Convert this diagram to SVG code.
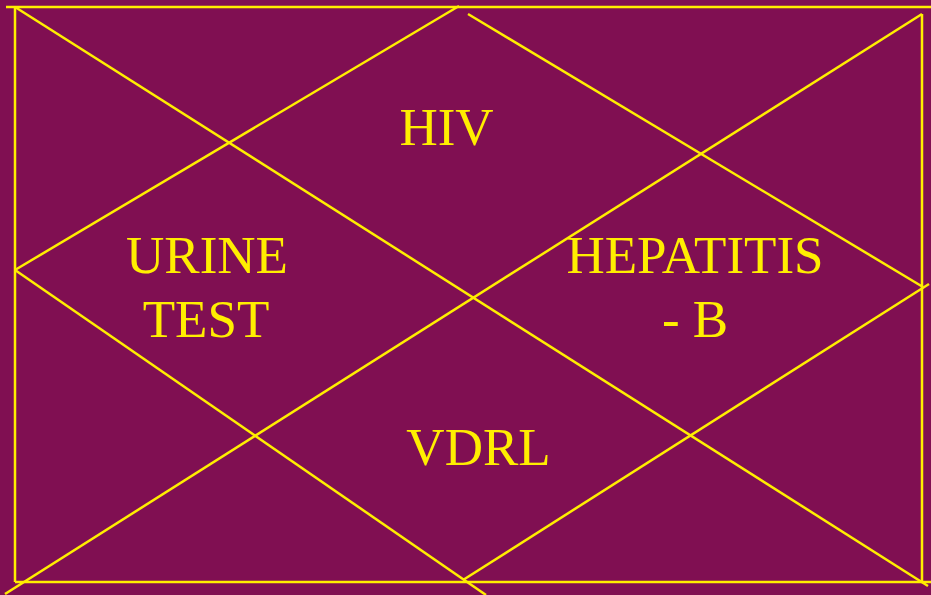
<svg xmlns="http://www.w3.org/2000/svg" width="931" height="595" viewBox="0 0 931 595">
<style>
.ln{stroke:#FFEE00;stroke-width:2.5;fill:none;stroke-linecap:butt}
.lb{font-family:"Liberation Serif","Times New Roman",serif;font-size:53px;fill:#FFEE00;text-anchor:middle}
</style>
<rect x="0" y="0" width="931" height="595" fill="#800F52"/>
<g id="connectors">
<line class="ln" x1="6" y1="7" x2="931" y2="7"/>
<line class="ln" x1="15" y1="7" x2="15" y2="582"/>
<line class="ln" x1="15" y1="582" x2="931" y2="582"/>
<line class="ln" x1="922" y1="14" x2="922" y2="583"/>
<line class="ln" x1="15" y1="7" x2="928" y2="586"/>
<line class="ln" x1="5" y1="594" x2="922" y2="14"/>
<line class="ln" x1="15" y1="270" x2="459" y2="6"/>
<line class="ln" x1="468" y1="14" x2="923" y2="287"/>
<line class="ln" x1="929" y1="284" x2="463" y2="580"/>
<line class="ln" x1="15" y1="270" x2="486" y2="595"/>
</g>
<g id="hiv"><text class="lb" x="446.5" y="144.5">HIV</text></g>
<g id="urine"><text class="lb" x="207" y="273">URINE</text><text class="lb" x="206" y="337">TEST</text></g>
<g id="hepatitis"><text class="lb" x="695" y="273">HEPATITIS</text><text class="lb" x="695" y="337">- B</text></g>
<g id="vdrl"><text class="lb" x="478.5" y="464.5">VDRL</text></g>
</svg>
